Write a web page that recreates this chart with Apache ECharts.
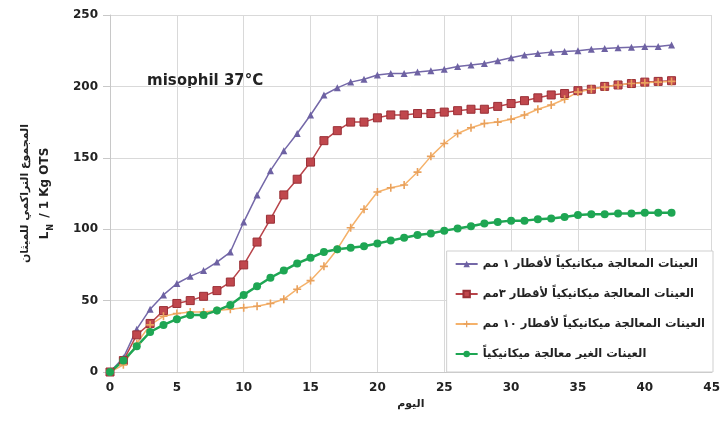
<!DOCTYPE html>
<html><head><meta charset="utf-8">
<script src="https://cdn.jsdelivr.net/npm/echarts@6/dist/echarts.min.js"></script>
<style>html,body{margin:0;padding:0;background:#fff}#c{width:723px;height:424px}</style>
</head><body><div id="c"></div>
<script>
const days = Array.from({length: 43}, (_, i) => i);
const s1mm = [0,10,30,44,54,62,67,71,77,84, 105,124,141,155,167,180,194,199,203,205, 208,209,209,210,211,212,214,215,216,218, 220,222,223,224,224.5,225,226,226.5,227,227.5, 228,228,229];
const s3mm = [0,8,26,34,43,48,50,53,57,63, 75,91,107,124,135,147,162,169,175,175, 178,180,180,181,181,182,183,184,184,186, 188,190,192,194,195,197,198,200,201,202, 203,203.5,204];
const s10mm = [0,5,20,33,39,41,42,42,43,44, 45,46,48,51,58,64,74,86,101,114, 126,129,131,140,151,160,167,171,174,175, 177,180,184,187,191,196,198,199.5,201,202, 202.5,203,203.5];
const sRaw = [0,8,18,28,33,37,40,40,43,47, 54,60,66,71,76,80,84,86,87,88, 90,92,94,96,97,99,100.5,102,104,105, 106,106,107,107.5,108.5,110,110.5,110.5,111,111, 111.5,111.5,111.5];
const names = [
  'العينات المعالجة ميكانيكياً لأقطار ١ مم',
  'العينات المعالجة ميكانيكياً لأقطار ٣مم',
  'العينات المعالجة ميكانيكياً لأقطار ١٠ مم',
  'العينات الغير معالجة ميكانيكياً'
];
const xTicks = [0,5,10,15,20,25,30,35,40,45];
const yTicks = [0,50,100,150,200,250];

const pair = arr => days.map((d, i) => [d, arr[i]]);
const plus = 'path://M4,0 L6,0 L6,4 L10,4 L10,6 L6,6 L6,10 L4,10 L4,6 L0,6 L0,4 L4,4 Z';
const font = 'DejaVu Sans, Liberation Sans, sans-serif';

const chart = echarts.init(document.getElementById('c'), null, {renderer: 'canvas'});
chart.setOption({
  animation: false,
  backgroundColor: '#fff',
  textStyle: {fontFamily: font},
  grid: {left: 110, right: 11, top: 15, bottom: 52},
  xAxis: {
    type: 'value', min: xTicks[0], max: xTicks[xTicks.length-1], interval: 5,
    name: 'اليوم', nameLocation: 'middle', nameGap: 26,
    nameTextStyle: {fontFamily: font, fontWeight: 'bold', fontSize: 11, color: '#222'},
    axisLine: {lineStyle: {color: '#c8c8c8'}},
    axisTick: {show: false},
    axisLabel: {fontFamily: font, fontWeight: 'bold', fontSize: 12, color: '#222', margin: 10},
    splitLine: {lineStyle: {color: '#d9d9d9'}}
  },
  yAxis: {
    type: 'value', min: yTicks[0], max: yTicks[yTicks.length-1], interval: 50,
    name: '{a|المجموع التراكمي للميثان}\n{b|L}{s|N}{b| / 1 Kg OTS}',
    nameLocation: 'middle', nameRotate: 90, nameGap: 55,
    nameTextStyle: {
      rich: {
        a: {fontFamily: font, fontWeight: 'bold', fontSize: 11, color: '#222', lineHeight: 20},
        b: {fontFamily: font, fontWeight: 'bold', fontSize: 12, color: '#222', lineHeight: 20},
        s: {fontFamily: font, fontWeight: 'bold', fontSize: 8, color: '#222', verticalAlign: 'bottom', padding: [0,2,0,1]}
      }
    },
    axisLine: {show: true, lineStyle: {color: '#c8c8c8'}},
    axisTick: {show: true, length: 7, lineStyle: {color: '#c8c8c8'}},
    axisLabel: {fontFamily: font, fontWeight: 'bold', fontSize: 12, color: '#222', margin: 12},
    splitLine: {lineStyle: {color: '#d9d9d9'}}
  },
  legend: {
    orient: 'vertical', right: 10, top: 251,
    padding: [7, 8, 12, 8], itemGap: 18,
    backgroundColor: '#fff', borderColor: '#cfcfcf', borderWidth: 1,
    itemWidth: 22, itemHeight: 8,
    textStyle: {fontFamily: font, fontWeight: 'bold', fontSize: 11.5, color: '#222'},
    data: names
  },
  graphic: [{
    type: 'text', left: 147, top: 74,
    style: {text: 'misophil 37°C', fontFamily: font, fontWeight: 'bold', fontSize: 15, fill: '#222'}
  }],
  series: [
    {name: names[0], type: 'line', data: pair(s1mm), symbol: 'triangle', symbolSize: 7,
     lineStyle: {color: '#7468a8', width: 1.5}, itemStyle: {color: '#6e62a3'}},
    {name: names[1], type: 'line', data: pair(s3mm), symbol: 'rect', symbolSize: 8,
     lineStyle: {color: '#b8444a', width: 1.5}, itemStyle: {color: '#c0474d', borderColor: '#9a2f36', borderWidth: 1}},
    {name: names[2], type: 'line', data: pair(s10mm), symbol: plus, symbolSize: 8,
     lineStyle: {color: '#f5b26b', width: 1.5}, itemStyle: {color: '#e9a15c'}},
    {name: names[3], type: 'line', data: pair(sRaw), symbol: 'circle', symbolSize: 8,
     lineStyle: {color: '#1ea653', width: 2.5}, itemStyle: {color: '#1ea653'}}
  ]
});
</script></body></html>
